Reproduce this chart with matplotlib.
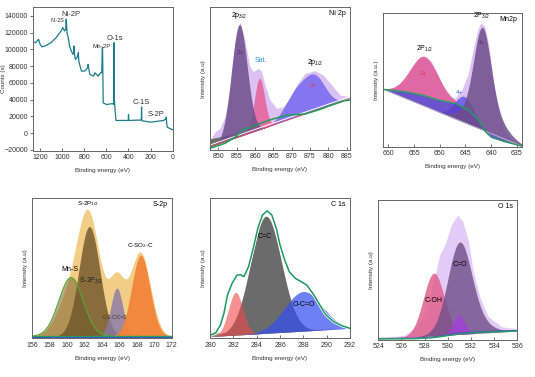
import matplotlib
matplotlib.use('Agg')
import matplotlib.pyplot as plt
import numpy as np

plt.rcParams['font.family'] = ['Liberation Sans', 'DejaVu Sans']
plt.rcParams['mathtext.fontset'] = 'custom'
plt.rcParams['mathtext.rm'] = 'Liberation Sans'
plt.rcParams['font.size'] = 5

# ---- survey spectrum ----
survey_be = [1267, 1239, 1214, 1200, 1184, 1147, 1101, 1055, 1010, 994, 979, 967, 964, 955,
             948, 933, 918, 902, 896, 893, 889, 881, 866, 856, 854, 850, 842, 826, 796, 770,
             765, 758, 750, 719, 710, 704, 690, 674, 653, 642, 637, 635, 631, 629, 598, 553,
             540, 533, 531, 528, 522, 513, 446, 402, 400, 397, 291, 284, 282, 279, 273, 199,
             138, 83, 60, 58, 55, 49, 21, 0]
survey_counts = [109000, 108000, 112000, 106000, 103000, 104500, 108000, 114000, 122000, 126000,
                 122000, 124000, 136000, 118000, 116000, 104000, 98000, 94000, 96000, 104000,
                 95000, 88000, 90000, 94000, 96000, 86000, 82000, 74000, 74000, 78000, 82000,
                 76000, 70000, 68000, 70000, 72000, 70000, 68000, 72000, 72000, 100000, 102000,
                 60000, 36000, 34000, 35000, 35000, 34000, 108000, 40000, 28000, 15000, 15000,
                 15000, 22000, 15000, 15500, 16000, 31000, 15000, 14500, 13000, 14000, 15000,
                 17000, 19000, 12000, 7000, 5000, 4000]
survey_labels = ['Ni-2S', 'Ni-2P', 'Mn-2P', 'O-1s', 'C-1S', 'S-2P']
survey_label_be = [1040, 925, 640, 520, 282, 150]
survey_label_counts = [135000, 142000, 103000, 113000, 36500, 22500]

# ---- Ni 2p (peaks: centre eV, height, width) ----
ni_base = [(847.7, 2.3), (885.9, 36.2)]
ni_env_be = [847.7, 849.1, 850.4, 851.8, 853.2, 854.5, 855.9, 857.2, 858.6, 859.5, 860.9, 861.8,
             862.7, 864.1, 865.9, 867.7, 869.5, 871.3, 873.6, 876.3, 878.6, 880.9, 883.2, 885.9]
ni_env_val = [7, 12.9, 15.2, 23.4, 42, 74.8, 90, 77, 58.4, 55, 57.2, 55, 45.6, 35, 29.2, 30.4,
              36.2, 45.6, 53.7, 55.6, 52.6, 45.6, 38.5, 37.4]
ni_main = [(855.7, 78.5, 2.15)]
ni_sat = [(861.2, 36, 1.4)]
ni_2p12 = [(876.3, 22, 2.9), (871.0, 16, 3.0)]
ni_shirley_be = [847.7, 851.8, 854.5, 856.3, 859.1, 864.5, 869.0, 873.6, 877.2, 880.9, 884.5, 885.9]
ni_shirley_val = [1.2, 4.7, 8.9, 13.6, 16.4, 21.5, 24.5, 25.2, 28, 31.5, 34.6, 35]

# ---- Mn 2p ----
mn_base = [(661, 43), (634, 0.5)]
mn_env_be = [661, 658.7, 656.8, 655.2, 653.9, 652.9, 651.6, 650.3, 649.3, 648.3, 647, 645.7,
             644.4, 643.5, 642.6, 642, 641.2, 640.5, 639.9, 639.2, 638.3, 637.3, 636, 634]
mn_env_val = [43, 44.5, 50, 60, 66.3, 67.5, 63.8, 53.8, 45, 37.5, 36.3, 42.5, 55, 72.5, 87.5, 93,
              90, 77.5, 60, 40, 22.5, 11.3, 5, 2]
mn_shirley_be = [661, 656.8, 653.5, 650.3, 647, 644.4, 642.4, 641.1, 639.9, 637.3, 634]
mn_shirley_val = [43, 41.2, 38.75, 35, 32.5, 27.5, 20, 11.25, 7, 3.75, 0.5]
mn_3p_12 = [(653.0, 29.5, 2.7)]
mn_3p_32 = [(641.7, 56, 1.6), (641.3, 21, 3.2)]
mn_4p = [(645.2, 19.5, 1.9)]

# ---- S 2p ----
s_base = [(156, 1.3), (172, 1.3)]
s_env = [(162.4, 88, 1.35), (165.7, 38, 0.9), (168.4, 60, 1.15), (159.8, 20, 1.3)]
s_2p32 = [(162.55, 78.5, 1.2)]
s_mns = [(160.45, 42, 1.4)]
s_csc = [(165.7, 34.5, 0.7)]
s_so2 = [(168.45, 58, 1.05)]

# ---- C 1s ----
c_base = [(280, 1.2), (292, 7.1)]
c_env_be = [280.0, 280.5, 280.9, 281.2, 281.5, 281.9, 282.3, 282.6, 282.9, 283.3, 283.7, 284.1,
            284.5, 284.9, 285.3, 285.7, 286.0, 286.4, 286.8, 287.3, 287.8, 288.3, 288.9, 289.4,
            289.9, 290.6, 291.3, 292.0]
c_env_val = [2.0, 4.0, 9.5, 18, 31, 39.3, 45, 45.5, 44, 51, 64, 78.6, 88, 91, 88, 78, 66.7, 56,
             47.5, 42.9, 40.5, 38, 31, 24, 17, 11.9, 9, 7.1]
c_red = [(282.2, 30.5, 0.62)]
c_cc = [(284.8, 83.6, 1.32)]
c_oco = [(288.0, 28.3, 1.6)]

# ---- O 1s ----
o_base = [(524, 0.7), (536, 6.4)]
o_env_be = [524, 526.3, 527.45, 528.2, 528.75, 529.3, 529.75, 530.3, 530.85, 531.3, 531.8, 532.2,
            532.8, 533.5, 534.65, 536]
o_env_val = [0.7, 3.6, 10.7, 22.6, 41.7, 60.7, 67.9, 82, 89.3, 84.5, 70.2, 48.8, 29.8, 16.7, 9.5,
             7.9]
o_shirley_be = [524, 527, 528.5, 529.5, 530.5, 531.5, 533, 536]
o_shirley_val = [0.7, 0.9, 1.5, 2.5, 3.8, 4.8, 5.6, 6.4]
o_coh = [(528.8, 44.8, 0.9)]
o_co = [(531.0, 56, 1.0), (531.7, 11, 1.5)]
o_small = [(530.95, 14, 0.5)]


def gauss(x, peaks):
    y = np.zeros_like(x)
    for c, a, s in peaks:
        y = y + a * np.exp(-(x - c) ** 2 / (2 * s * s))
    return y


def line(x, ends):
    (x0, y0), (x1, y1) = ends
    return y0 + (x - x0) * (y1 - y0) / (x1 - x0)


def style(ax, xlim, xticks, title, ylabel='Intensity (a.u)'):
    ax.set_xlim(*xlim)
    ax.set_ylim(0, 100)
    ax.set_xticks(xticks)
    ax.set_yticks([])
    ax.tick_params(axis='x', direction='in', length=2, width=0.5, labelsize=5, pad=2.5, colors='#333333')
    for sp in ax.spines.values():
        sp.set_linewidth(0.7)
        sp.set_color('#666666')
    ax.set_xlabel('Binding energy (eV)', fontsize=4.5, labelpad=5, color='#333333')
    ax.set_ylabel(ylabel, fontsize=4.5, labelpad=3, color='#333333')
    ax.text(0.97, 0.955, title, transform=ax.transAxes, ha='right', va='center', fontsize=5)


fig = plt.figure(figsize=(5.35, 3.77), dpi=100)

# survey
ax = fig.add_axes([0.0611, 0.5995, 0.2617, 0.3828])
ax.plot(survey_be, survey_counts, color='#1a7c8c', lw=0.9)
ax.set_xlim(1267, 0)
ax.set_ylim(-21500, 151000)
ax.set_xticks([1200, 1000, 800, 600, 400, 200, 0])
ax.set_yticks(np.arange(-20000, 140001, 20000))
ax.tick_params(axis='x', direction='in', length=2, width=0.5, labelsize=5, pad=2.5, colors='#333333')
ax.tick_params(axis='y', direction='out', length=2, width=0.5, labelsize=5, pad=1.5, colors='#333333')
for sp in ax.spines.values():
    sp.set_linewidth(0.7)
    sp.set_color('#666666')
ax.set_xlabel('Binding energy (eV)', fontsize=4.5, labelpad=5, color='#333333')
ax.set_ylabel('Counts (s)', fontsize=4.5, color='#333333')
ax.yaxis.set_label_coords(-0.19, 0.5)
for lab, xb, yc in zip(survey_labels, survey_label_be, survey_label_counts):
    fs = 4 if lab == 'Ni-2S' else (4.5 if lab == 'Mn-2P' else 5.5)
    ax.text(xb, yc, lab, fontsize=fs, ha='center', va='center', color='#333333')

# Ni 2p
ax = fig.add_axes([0.3925, 0.6021, 0.2617, 0.3785])
x = np.linspace(847.7, 885.9, 600)
b = line(x, ni_base)
ax.fill_between(ni_env_be, line(np.array(ni_env_be), ni_base), ni_env_val, color='#dcc2f3', lw=0)
ax.fill_between(x, b, b + np.clip(5.5 - 0.33 * (x - 847.7), 0, None), color='#6e6e6e', lw=0)
ax.fill_between(x, b, b + gauss(x, ni_2p12), color='#6a5cf0', alpha=0.75, lw=0)
ax.fill_between(x, b, b + gauss(x, ni_sat), color='#e8609a', alpha=0.85, lw=0)
ax.fill_between(x, b, b + gauss(x, ni_main), color='#6e4e8c', alpha=0.85, lw=0)
ax.plot(x, b, color='#e05060', lw=0.6)
ax.plot(x, b + 1.2, color='white', lw=0.7)
ax.plot(ni_shirley_be, ni_shirley_val, color='#1e9e55', lw=1.1)
ax.text(855.8, 94, r'2p$_{\mathregular{3/2}}$', ha='center', va='center', fontsize=5)
ax.text(855.9, 68, '2+', ha='center', va='center', fontsize=4.5, color='#4a3360')
ax.text(861.7, 63, 'Sat.', ha='center', va='center', fontsize=5, color='#2f8fd0')
ax.text(876.3, 61.5, r'2p$_{\mathregular{1/2}}$', ha='center', va='center', fontsize=5)
ax.text(875.9, 45.5, '2+', ha='center', va='center', fontsize=4.5, color='#e0305a')
style(ax, (847.7, 885.9), [850, 855, 860, 865, 870, 875, 880, 885], 'Ni 2p')

# Mn 2p
ax = fig.add_axes([0.7165, 0.6109, 0.2587, 0.3538])
x = np.linspace(634, 661, 600)
b = line(x, mn_base)
g = np.interp(x, mn_shirley_be[::-1], mn_shirley_val[::-1])
ax.fill_between(mn_env_be, line(np.array(mn_env_be), mn_base), mn_env_val, color='#dcc2f3', lw=0)
ax.fill_between(x, g, g + gauss(x, mn_3p_12), color='#e0609a', alpha=0.9, lw=0)
ax.fill_between(x, b, b + gauss(x, mn_4p), color='#6a5ce8', alpha=0.9, lw=0)
ax.fill_between(x, b, g, color='#5a3fc8', alpha=0.85, lw=0)
ax.fill_between(x, b, b + gauss(x, mn_3p_32), color='#6e4e8c', alpha=0.85, lw=0)
ax.plot(x, b, color='#c0c0c0', lw=0.6)
ax.plot(mn_shirley_be, mn_shirley_val, color='#22a060', lw=1.0)
ax.text(641.8, 98, r'2P$_{\mathregular{3/2}}$', ha='center', va='center', fontsize=5)
ax.text(641.8, 78, '3+', ha='center', va='center', fontsize=4.5, color='#4a3360')
ax.text(652.9, 73, r'2P$_{\mathregular{1/2}}$', ha='center', va='center', fontsize=5)
ax.text(653.2, 54.5, '3+', ha='center', va='center', fontsize=4.5, color='#e03050')
ax.text(646.2, 41, '4+', ha='center', va='center', fontsize=4.5, color='#3a5fd0')
style(ax, (661, 634), [660, 655, 650, 645, 640, 635], 'Mn2p', 'Intensity (a.u.)')

# S 2p
ax = fig.add_axes([0.0604, 0.1027, 0.2606, 0.3714])
x = np.linspace(156, 172, 600)
b = line(x, s_base)
ax.fill_between(x, b, b + gauss(x, s_env), color='#f2cd86', lw=0)
ax.fill_between(x, b, b + gauss(x, s_mns), color='#7a6030', alpha=0.55, lw=0)
ax.fill_between(x, b, b + gauss(x, s_2p32), color='#6e5428', alpha=0.8, lw=0)
ax.fill_between(x, b, b + gauss(x, s_csc), color='#8878a8', alpha=0.8, lw=0)
ax.fill_between(x, b, b + gauss(x, s_so2), color='#f2853a', alpha=0.95, lw=0)
ax.plot(x, b + gauss(x, s_mns), color='#5aa530', lw=0.9)
ax.plot(x, b - 0.6, color='#3a48c8', lw=0.7)
ax.plot(x, b + 0.4, color='#20a060', lw=0.8)
ax.text(162.4, 96, r'S-2P$_{\mathregular{1/2}}$', ha='center', va='center', fontsize=4.5)
ax.text(160.3, 49, 'Mn-S', ha='center', va='center', fontsize=5)
ax.text(162.8, 41, r'S-2P$_{\mathregular{3/2}}$', ha='center', va='center', fontsize=5, color='#222222')
ax.text(168.4, 66, r'C-SO$_{\mathregular{2}}$-C', ha='center', va='center', fontsize=4.5)
ax.text(165.5, 15, 'C-S-C/C=S', ha='center', va='center', fontsize=3.5, color='#333333')
style(ax, (156, 172), list(range(156, 173, 2)), 'S-2p')

# C 1s
ax = fig.add_axes([0.3925, 0.1027, 0.2617, 0.3714])
x = np.linspace(280, 292, 600)
b = line(x, c_base)
ax.fill_between(x, b, b + 2.5 * (292 - x) / 12, color='#9a9a9a', lw=0)
ax.fill_between(x, b, b + gauss(x, c_cc), color='#6b6b6b', lw=0)
ax.fill_between(x, b, b + gauss(x, c_red), color='#f04848', alpha=0.6, lw=0)
ax.fill_between(x, b, b + gauss(x, c_oco), color='#3550f0', alpha=0.72, lw=0)
ax.plot(c_env_be, c_env_val, color='white', lw=2.2)
ax.plot(c_env_be, c_env_val, color='#1a9a5a', lw=1.1)
ax.text(284.7, 72.5, 'C=C', ha='center', va='center', fontsize=5)
ax.text(288.05, 24, 'O-C=O', ha='center', va='center', fontsize=5)
style(ax, (280, 292), list(range(280, 293, 2)), 'C 1s')

# O 1s
ax = fig.add_axes([0.7071, 0.0981, 0.2598, 0.3714])
x = np.linspace(524, 536, 600)
b = line(x, o_base)
ax.fill_between(o_env_be, line(np.array(o_env_be), o_base), o_env_val, color='#e3cbf7', lw=0)
ax.fill_between(x, b, b + gauss(x, o_coh), color='#e0608c', alpha=0.85, lw=0)
ax.fill_between(x, b, b + gauss(x, o_co), color='#6e4e88', alpha=0.8, lw=0)
ax.fill_between(x, b, b + gauss(x, o_small), color='#a040d8', alpha=0.8, lw=0)
ax.plot(o_shirley_be, np.array(o_shirley_val) + 0.5, color='#4a48c8', lw=0.7)
ax.plot(o_shirley_be, o_shirley_val, color='#20a060', lw=1.0)
ax.text(531.05, 54, 'C=O', ha='center', va='center', fontsize=5)
ax.text(528.75, 28.5, 'C-OH', ha='center', va='center', fontsize=5)
style(ax, (524, 536), list(range(524, 537, 2)), 'O 1s')

fig.savefig('out.png', dpi=100)
